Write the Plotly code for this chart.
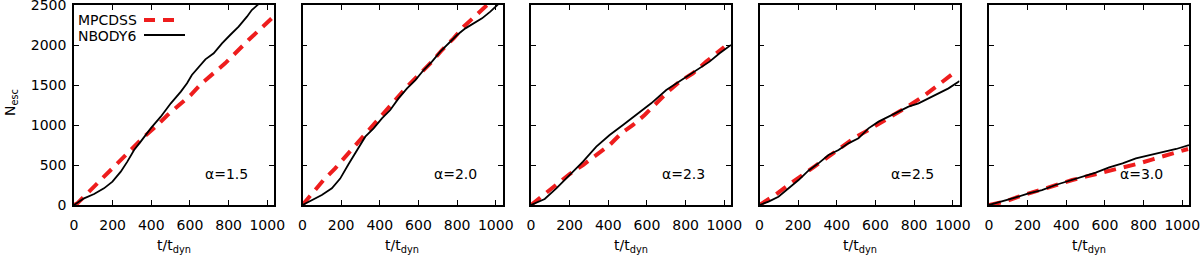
import plotly.graph_objects as go

# ---------------- data ----------------
alphas = ["1.5", "2.0", "2.3", "2.5", "3.0"]

nb_t = [
    [0, 52, 104, 155, 199, 242, 276, 311, 345, 397, 449, 501, 553, 585, 610, 645, 680, 723, 766, 808, 852, 895, 920, 946, 975, 1035],
    [0, 48, 100, 152, 195, 238, 282, 325, 368, 411, 454, 497, 541, 584, 627, 670, 713, 756, 800, 843, 886, 929, 972, 998, 1015, 1035],
    [0, 71, 131, 200, 269, 338, 407, 476, 545, 622, 700, 778, 847, 924, 976, 1024, 1035],
    [0, 47, 98, 150, 202, 253, 305, 357, 409, 460, 512, 564, 616, 668, 719, 771, 823, 875, 926, 978, 1030, 1035],
    [0, 66, 135, 205, 274, 344, 413, 483, 552, 622, 691, 760, 830, 899, 969, 1035],
]
nb_n = [
    [0, 83, 137, 208, 292, 417, 542, 687, 792, 958, 1104, 1271, 1417, 1521, 1625, 1729, 1821, 1896, 2021, 2125, 2229, 2354, 2437, 2492, 2560, 2680],
    [0, 62, 125, 208, 330, 510, 687, 854, 958, 1083, 1187, 1333, 1458, 1562, 1687, 1792, 1917, 2021, 2125, 2208, 2271, 2333, 2417, 2479, 2510, 2560],
    [0, 75, 208, 375, 542, 729, 875, 1000, 1125, 1271, 1437, 1562, 1667, 1792, 1896, 1979, 2000],
    [0, 42, 104, 208, 312, 429, 521, 625, 687, 771, 833, 958, 1042, 1104, 1167, 1229, 1271, 1333, 1387, 1458, 1542, 1550],
    [0, 42, 92, 146, 187, 250, 300, 354, 404, 471, 521, 583, 625, 667, 700, 750],
]

mp_t = [
    [0, 17, 69, 130, 190, 250, 302, 363, 423, 484, 544, 604, 661, 782, 903, 1024, 1035],
    [0, 57, 109, 169, 230, 282, 333, 385, 437, 497, 549, 610, 670, 722, 782, 834, 895, 955, 1000],
    [0, 79, 140, 200, 269, 338, 407, 467, 528, 588, 648, 709, 769, 838, 907, 972, 1000],
    [0, 81, 150, 219, 288, 357, 426, 495, 564, 633, 702, 771, 840, 909, 978, 1000],
    [0, 83, 153, 222, 292, 361, 431, 500, 569, 639, 708, 778, 847, 917, 986, 1030],
]
mp_n = [
    [0, 20, 146, 292, 437, 583, 708, 854, 979, 1125, 1250, 1375, 1521, 1771, 2062, 2333, 2360],
    [0, 167, 312, 458, 625, 771, 917, 1062, 1208, 1354, 1500, 1646, 1792, 1937, 2083, 2229, 2362, 2500, 2600],
    [0, 154, 271, 387, 500, 625, 750, 896, 1000, 1125, 1271, 1417, 1542, 1646, 1792, 1917, 1975],
    [0, 125, 250, 362, 487, 604, 721, 846, 937, 1042, 1137, 1237, 1346, 1471, 1596, 1640],
    [0, 42, 104, 158, 208, 262, 312, 354, 396, 429, 479, 521, 571, 625, 667, 700],
]

x_ticks = [0, 200, 400, 600, 800, 1000]
y_ticks = [0, 500, 1000, 1500, 2000, 2500]
series_names = ["MPCDSS", "NBODY6"]

# ---------------- layout ----------------
W, H = 1200, 256
lefts = [74, 302.5, 531, 759.5, 989]
pw = 200
top_px, bot_px = 5, 205
RED = "#ee1d1d"
FONT = "DejaVu Sans"

fig = go.Figure()
for i in range(5):
    xa = "x" if i == 0 else f"x{i+1}"
    ya = "y" if i == 0 else f"y{i+1}"
    fig.add_trace(go.Scatter(x=mp_t[i], y=mp_n[i], mode="lines", xaxis=xa, yaxis=ya,
                             name=series_names[0], showlegend=False,
                             line=dict(color=RED, width=4, dash="12px,8px")))
    fig.add_trace(go.Scatter(x=nb_t[i], y=nb_n[i], mode="lines", xaxis=xa, yaxis=ya,
                             name=series_names[1], showlegend=False,
                             line=dict(color="black", width=1.8)))

axis_common = dict(showline=True, linecolor="black", linewidth=1.6, mirror="ticks",
                   ticks="inside", ticklen=5, tickwidth=1.4, tickcolor="black",
                   showgrid=False, zeroline=False, automargin=False,
                   ticklabeloverflow="allow",
                   tickfont=dict(family=FONT, size=14, color="black"))
layout = dict(width=W, height=H, margin=dict(l=0, r=0, t=0, b=0, autoexpand=False),
              paper_bgcolor="white", plot_bgcolor="white", showlegend=False)
for i in range(5):
    xk = "xaxis" if i == 0 else f"xaxis{i+1}"
    yk = "yaxis" if i == 0 else f"yaxis{i+1}"
    layout[xk] = dict(axis_common, domain=[lefts[i] / W, (lefts[i] + pw) / W],
                      range=[0, 1035], tickvals=x_ticks, ticklabelstandoff=6,
                      anchor="y" if i == 0 else f"y{i+1}")
    layout[yk] = dict(axis_common, domain=[1 - bot_px / H, 1 - top_px / H],
                      range=[0, 2500], tickvals=y_ticks, showticklabels=(i == 0),
                      ticklabelstandoff=3,
                      anchor="x" if i == 0 else f"x{i+1}")
fig.update_layout(**layout)

ann = []
for i in range(5):
    xa = "x" if i == 0 else f"x{i+1}"
    ya = "y" if i == 0 else f"y{i+1}"
    ann.append(dict(text=f"α={alphas[i]}", xref=f"{xa} domain", yref=f"{ya} domain",
                    x=0.88, y=0.155, xanchor="right", yanchor="middle", showarrow=False,
                    font=dict(family=FONT, size=14, color="black")))
    ann.append(dict(text="t/t<sub>dyn</sub>", xref="paper", yref="paper",
                    x=(lefts[i] + pw / 2) / W, y=-0.005, xanchor="center", yanchor="bottom",
                    showarrow=False, font=dict(family=FONT, size=14, color="black")))
ann.append(dict(text="N<sub>esc</sub>", xref="paper", yref="paper", textangle=-90,
                x=0, y=1 - 103 / H, xanchor="left", yanchor="middle", showarrow=False,
                font=dict(family=FONT, size=14, color="black")))
# legend (text left, sample right, as in the reference)
ann.append(dict(text=series_names[0], xref="paper", yref="paper", x=76 / W, y=1 - 20 / H,
                xanchor="left", yanchor="middle", showarrow=False,
                font=dict(family=FONT, size=14, color="black")))
ann.append(dict(text=series_names[1], xref="paper", yref="paper", x=76 / W, y=1 - 36 / H,
                xanchor="left", yanchor="middle", showarrow=False,
                font=dict(family=FONT, size=14, color="black")))
fig.update_layout(annotations=ann)
fig.add_shape(type="line", xref="paper", yref="paper", x0=144 / W, x1=176 / W,
              y0=1 - 20 / H, y1=1 - 20 / H, line=dict(color=RED, width=4, dash="11px,8px"))
fig.add_shape(type="line", xref="paper", yref="paper", x0=144 / W, x1=185 / W,
              y0=1 - 35 / H, y1=1 - 35 / H, line=dict(color="black", width=1.8))

fig.write_html("out.html", config={"displayModeBar": False},
               post_script="document.body.style.margin='0px';document.body.style.overflow='hidden';")
